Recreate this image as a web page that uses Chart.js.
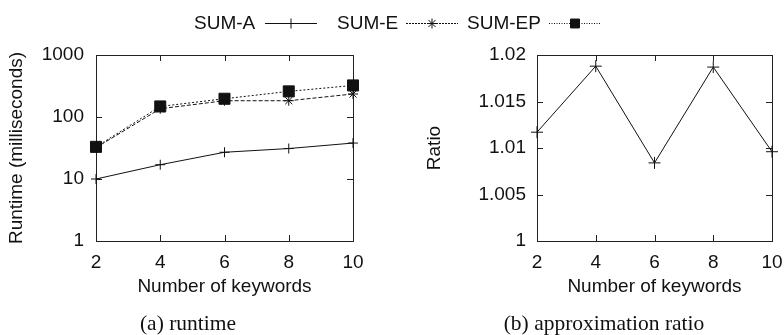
<!DOCTYPE html>
<html><head><meta charset="utf-8">
<script src="https://cdn.jsdelivr.net/npm/chart.js@4.4.1/dist/chart.umd.min.js"></script>
<style>
html,body{margin:0;padding:0;background:#fff;}
#wrap{position:relative;width:784px;height:335px;overflow:hidden;font-family:"Liberation Sans",Arial,sans-serif;background:#fff;}
#cA{position:absolute;left:0;top:0;}
#cB{position:absolute;left:390px;top:0;}
.lg{position:absolute;top:12px;font-size:19px;line-height:22px;color:#111;white-space:nowrap;}
.ls{position:absolute;top:13px;}
.cap{position:absolute;top:311px;font-family:"Liberation Serif","Times New Roman",serif;font-size:21.5px;line-height:24px;color:#111;transform:translateX(-50%);white-space:nowrap;}
</style></head>
<body>
<div id="wrap">
  <canvas id="cA" width="390" height="335"></canvas>
  <canvas id="cB" width="394" height="335"></canvas>
  <div class="lg" style="left:194px">SUM-A</div>
  <canvas class="ls" id="lsA" width="56" height="20" style="left:263px"></canvas>
  <div class="lg" style="left:337px">SUM-E</div>
  <canvas class="ls" id="lsE" width="56" height="20" style="left:404px"></canvas>
  <div class="lg" style="left:467px">SUM-EP</div>
  <canvas class="ls" id="lsEP" width="56" height="20" style="left:547px"></canvas>
  <div class="cap" style="left:188px">(a) runtime</div>
  <div class="cap" style="left:604px">(b) approximation ratio</div>
</div>
<script>
// ---- data ----
const keywords = ['2', '4', '6', '8', '10'];
const sumA  = [10, 17, 27, 31, 38];
const sumE  = [32, 136, 183, 183, 235];
const sumEP = [33, 148, 197, 259, 323];
const ratio = [1.0117, 1.0188, 1.0084, 1.0187, 1.0096];
const runtimeTicks = [1, 10, 100, 1000];
const runtimeTickLabels = ['1', '10', '100', '1000'];
const ratioTicks = [1, 1.005, 1.01, 1.015, 1.02];
const ratioTickLabels = ['1', '1.005', '1.01', '1.015', '1.02'];

const INK = '#111';
Chart.defaults.font.family = '"Liberation Sans", Arial, sans-serif';
Chart.defaults.font.size = 19;
Chart.defaults.color = INK;
Chart.defaults.animation = false;

// border box + inward tick marks (gnuplot style)
const framePlugin = {
  id: 'frame',
  beforeDatasetsDraw(chart) {
    const {ctx, chartArea: a, scales} = chart;
    ctx.save();
    ctx.strokeStyle = '#222';
    ctx.lineWidth = 1;
    ctx.strokeRect(Math.round(a.left) + 0.5, Math.round(a.top) + 0.5,
                   Math.round(a.right - a.left), Math.round(a.bottom - a.top));
    const L = 6;
    ctx.beginPath();
    scales.x.ticks.forEach((t, i) => {
      const px = Math.round(scales.x.getPixelForTick(i)) + 0.5;
      ctx.moveTo(px, a.bottom); ctx.lineTo(px, a.bottom - L);
      ctx.moveTo(px, a.top); ctx.lineTo(px, a.top + L);
    });
    scales.y.ticks.forEach(t => {
      const py = Math.round(scales.y.getPixelForValue(t.value)) + 0.5;
      ctx.moveTo(a.left, py); ctx.lineTo(a.left + L, py);
      ctx.moveTo(a.right, py); ctx.lineTo(a.right - L, py);
    });
    ctx.stroke();
    ctx.restore();
  }
};

function fixX(h) {
  return function (s) { s.height = h; s.paddingLeft = 0; s.paddingRight = 0; s.paddingTop = 0; s.paddingBottom = 0; };
}
function fixY(w) {
  return function (s) { s.width = w; s.paddingLeft = 0; s.paddingRight = 0; s.paddingTop = 0; s.paddingBottom = 0; };
}

const xCommon = (titlePad) => ({
  type: 'category',
  offset: false,
  grid: {display: false, drawTicks: false},
  border: {display: false},
  ticks: {padding: 10, maxRotation: 0, autoSkip: false},
  title: {display: true, text: 'Number of keywords', padding: {top: 0, bottom: titlePad}},
  afterFit: fixX(94)
});

new Chart(document.getElementById('cA'), {
  type: 'line',
  data: {
    labels: keywords,
    datasets: [
      {label: 'SUM-A', data: sumA, borderColor: INK, backgroundColor: INK, borderWidth: 1,
       pointStyle: 'cross', pointRadius: 5, pointBorderWidth: 1, clip: false},
      {label: 'SUM-E', data: sumE, borderColor: INK, backgroundColor: INK, borderWidth: 1, borderDash: [4, 2],
       pointStyle: 'star', pointRadius: 5, pointBorderWidth: 1, clip: false},
      {label: 'SUM-EP', data: sumEP, borderColor: INK, backgroundColor: INK, borderWidth: 1, borderDash: [2, 2],
       pointStyle: 'rect', pointRadius: 7.8, pointBorderWidth: 1, clip: false}
    ]
  },
  options: {
    responsive: false,
    layout: {padding: {top: 55, right: 37, bottom: 0, left: 0}},
    plugins: {legend: {display: false}, tooltip: {enabled: false}},
    scales: {
      x: xCommon(36.6),
      y: {
        type: 'logarithmic', min: 1, max: 1000,
        grid: {display: false, drawTicks: false},
        border: {display: false},
        afterBuildTicks: s => { s.ticks = runtimeTicks.map(v => ({value: v})); },
        ticks: {padding: 12, callback: (v, i) => runtimeTickLabels[i]},
        title: {display: true, text: 'Runtime (milliseconds)', padding: {top: 5.6, bottom: 0}},
        afterFit: fixY(96)
      }
    }
  },
  plugins: [framePlugin]
});

new Chart(document.getElementById('cB'), {
  type: 'line',
  data: {
    labels: keywords,
    datasets: [
      {label: 'Ratio', data: ratio, borderColor: INK, backgroundColor: INK, borderWidth: 1,
       pointStyle: 'cross', pointRadius: 6, pointBorderWidth: 1, clip: false}
    ]
  },
  options: {
    responsive: false,
    layout: {padding: {top: 55, right: 12, bottom: 0, left: 0}},
    plugins: {legend: {display: false}, tooltip: {enabled: false}},
    scales: {
      x: xCommon(36.6),
      y: {
        type: 'linear', min: 1, max: 1.02,
        grid: {display: false, drawTicks: false},
        border: {display: false},
        afterBuildTicks: s => { s.ticks = ratioTicks.map(v => ({value: v})); },
        ticks: {padding: 11, callback: (v, i) => ratioTickLabels[i]},
        title: {display: true, text: 'Ratio', padding: {top: 33.6, bottom: 0}},
        afterFit: fixY(147)
      }
    }
  },
  plugins: [framePlugin]
});

// legend samples
function sample(id, dash, style, r) {
  const c = document.getElementById(id), ctx = c.getContext('2d');
  ctx.strokeStyle = INK; ctx.fillStyle = INK; ctx.lineWidth = 1;
  ctx.setLineDash(dash);
  ctx.beginPath(); ctx.moveTo(2, 10.5); ctx.lineTo(54, 10.5); ctx.stroke();
  ctx.setLineDash([]);
  Chart.helpers.drawPoint(ctx, {pointStyle: style, radius: r, rotation: 0, borderWidth: 1}, 28, 10.5);
}
sample('lsA', [], 'cross', 5);
sample('lsE', [2, 1], 'star', 5);
sample('lsEP', [1, 1.5], 'rect', 6.3);
</script>
</body></html>
